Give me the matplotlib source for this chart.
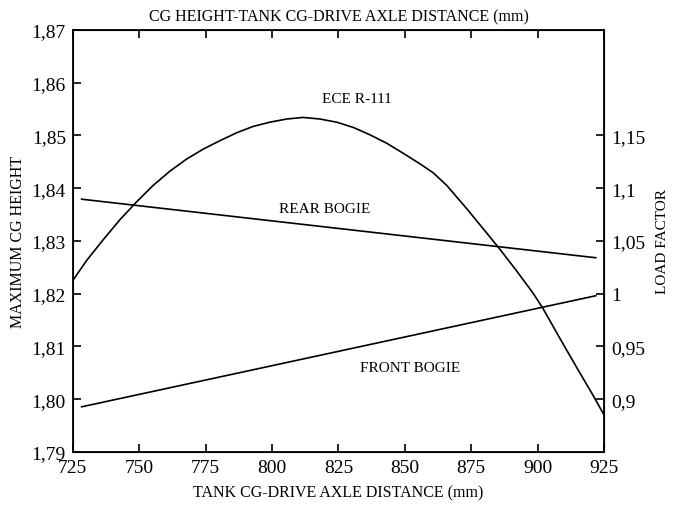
import matplotlib
matplotlib.use('Agg')
import matplotlib.pyplot as plt

# ECE R-111 maximum CG height (left axis, m)
ece_x = [725, 730.2, 736.4, 742.7, 749.0, 755.2, 761.5, 767.8, 774.1, 780.4,
         786.7, 792.9, 799.2, 805.5, 811.7, 818.0, 824.3, 830.6, 836.9, 843.2,
         849.4, 855.7, 860.7, 865.8, 873.3, 879.5, 885.8, 892.1, 898.4, 902.1,
         908.4, 914.7, 921.0, 925]
ece_h = [1.8225, 1.8263, 1.8302, 1.8340, 1.8374, 1.8405, 1.8432, 1.8455, 1.8474, 1.8490,
         1.8505, 1.8517, 1.8525, 1.8531, 1.8534, 1.8531, 1.8525, 1.8515, 1.8501, 1.8485,
         1.8466, 1.8446, 1.8429, 1.8405, 1.8361, 1.8323, 1.8284, 1.8243, 1.8200, 1.8171,
         1.8115, 1.8060, 1.8006, 1.7970]

# load factors (right axis)
rear_x = [728.3, 921.9]
rear_lf = [1.0895, 1.034]
front_x = [728.3, 921.9]
front_lf = [0.8927, 0.998]

left_ticks = [1.79, 1.80, 1.81, 1.82, 1.83, 1.84, 1.85, 1.86, 1.87]
left_labels = ['1,79', '1,80', '1,81', '1,82', '1,83', '1,84', '1,85', '1,86', '1,87']
right_ticks = [0.9, 0.95, 1.0, 1.05, 1.1, 1.15]
right_labels = ['0,9', '0,95', '1', '1,05', '1,1', '1,15']
x_ticks = [725, 750, 775, 800, 825, 850, 875, 900, 925]

plt.rcParams['font.family'] = ['Liberation Serif', 'DejaVu Serif']

fig = plt.figure(figsize=(6.81, 5.06), dpi=100)
ax = fig.add_axes([0.107, 0.105, 0.78, 0.834])
ax2 = ax.twinx()

lw = 1.2
ax.plot(ece_x, ece_h, color='black', lw=lw)
ax2.plot(rear_x, rear_lf, color='black', lw=lw)
ax2.plot(front_x, front_lf, color='black', lw=lw)

ax.set_xlim(725, 925)
ax.set_ylim(1.79, 1.87)
# right axis aligned so that 1.0 sits on 1.82, 0.05 per 0.01
ax2.set_ylim(0.85, 1.25)

ax.set_xticks(x_ticks)
ax.set_xticklabels([str(v) for v in x_ticks], fontsize=14)
ax.set_yticks(left_ticks)
ax.set_yticklabels(left_labels, fontsize=14)
ax2.set_yticks(right_ticks)
ax2.set_yticklabels(right_labels, fontsize=14)

ax.tick_params(axis='both', direction='in', length=6, width=1.2, top=True, pad=5)
ax2.tick_params(axis='y', direction='in', length=6, width=1.2, pad=5)
for sp in ax.spines.values():
    sp.set_linewidth(1.3)

ax.set_xlabel('TANK CG-DRIVE AXLE DISTANCE (mm)', fontsize=11.5, labelpad=6)
ax.set_ylabel('MAXIMUM CG HEIGHT', fontsize=11.5, labelpad=4)
ax2.set_ylabel('LOAD FACTOR', fontsize=11, labelpad=8)
ax.set_title('CG HEIGHT-TANK CG-DRIVE AXLE DISTANCE (mm)', fontsize=11.5, pad=7)

ax.text(832, 1.8569, 'ECE R-111', fontsize=11, ha='center', va='center')
ax.text(820, 1.8362, 'REAR BOGIE', fontsize=11, ha='center', va='center')
ax.text(852, 1.806, 'FRONT BOGIE', fontsize=11, ha='center', va='center')

fig.savefig('out.png', dpi=100)
